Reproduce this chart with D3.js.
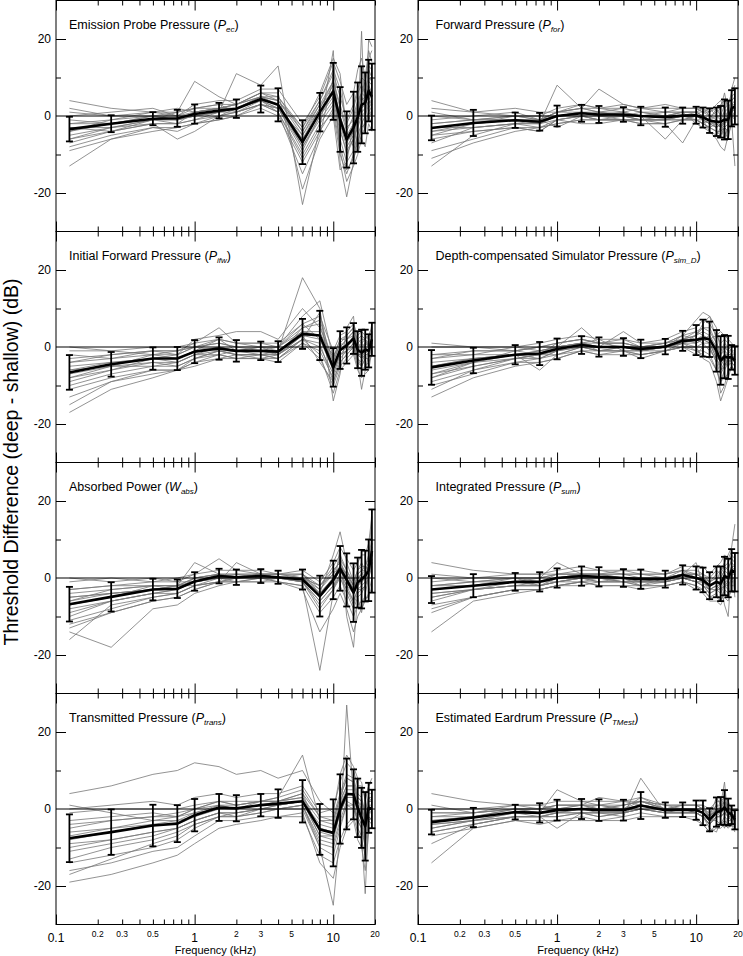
<!DOCTYPE html>
<html>
<head>
<meta charset="utf-8">
<script src="https://cdn.jsdelivr.net/npm/d3@7"></script>
<style>
  body { margin: 0; background: #fff; }
  text { font-family: "Liberation Sans", Arial, sans-serif; fill: #000; }
</style>
</head>
<body>
<svg id="chart" width="743" height="956"></svg>
<script>
// frequencies (kHz) of the threshold measurements
const freqs = [0.125, 0.25, 0.5, 0.75, 1, 1.5, 2, 3, 4, 6, 8, 10, 11.2, 12.5, 14, 15, 16, 17, 18, 19];

// tick labels of the frequency axis
const bigTickLabels = [0.1, 1, 10];
const smallTickLabels = [0.2, 0.3, 0.5, 2, 3, 5, 20];
const yTickLabels = [20, 0, -20];

// panel titles: text, symbol, subscript
const titleText = ["Emission Probe Pressure (", "Forward Pressure (", "Initial Forward Pressure (",
  "Depth-compensated Simulator Pressure (", "Absorbed Power (", "Integrated Pressure (",
  "Transmitted Pressure (", "Estimated Eardrum Pressure ("];
const titleSym = ["P", "P", "P", "P", "W", "P", "P", "P"];
const titleSub = ["ec", "for", "ifw", "sim_D", "abs", "sum", "trans", "TMest"];

// mean difference (dB) and standard deviation per panel
const meanPec = [-3.4,-2.0,-0.7,-0.6,0.5,1.4,1.9,4.4,2.9,-6.8,1.0,6.4,-0.9,-6.1,-3.0,-0.3,2.9,3.4,6.6,5.0];
const sdPec   = [3.2,2.2,1.7,2.2,2.5,2.0,2.4,3.5,4.3,5.7,5.0,7.4,8.4,7.3,9.3,9.0,10,7.9,8.0,8.6];
const meanPfor = [-3.1,-1.8,-1.1,-1.5,0,0.7,0.4,0.4,0,-0.3,0.1,0.2,-0.4,-1.2,-1.5,-1.5,-0.9,-1.0,2.0,2.5];
const sdPfor   = [3.2,3.4,2.0,2.3,2.7,2.2,2.2,1.9,2.4,2.5,2.1,2.2,2.6,3.2,3.7,4.1,5.2,5.0,4.7,4.7];
const meanPifw = [-6.6,-4.5,-3.0,-3.0,-1.2,-0.4,-1.0,-1.0,-1.2,3.4,3.0,-5.3,-0.8,0.4,2.2,-0.7,-1.5,-0.7,-1.0,2.0];
const sdPifw   = [4.5,3.2,2.9,3.0,3.0,2.9,2.8,2.4,2.7,3.9,6.4,5.0,4.9,4.7,4.0,4.8,6.0,5.2,4.3,4.3];
const meanPsim = [-5.3,-3.5,-2.0,-1.7,-0.5,0.5,0,0,-0.5,0.1,1.6,1.8,2.3,2.0,-1.0,-3.5,-2.5,-2.7,-2.7,-3.5];
const sdPsim   = [4.5,3.3,2.5,3.0,2.7,2.3,2.5,2.3,2.4,2.0,2.6,3.9,4.8,4.6,5.4,6.3,5.6,5.6,3.2,3.7];
const meanWabs = [-6.8,-4.9,-3.0,-2.8,-0.9,0.5,0.2,0.5,0.2,-0.4,-4.7,-0.5,2.5,-0.5,-3.8,-1.2,-0.3,0.5,2.0,7.0];
const sdWabs   = [4.5,3.8,2.8,2.4,2.4,1.9,2.0,1.8,1.7,2.6,5.3,5.0,5.8,6.9,7.6,6.5,7.6,6.6,8.0,10.8];
const meanPsum = [-3.0,-2.0,-1.0,-1.0,0,0.5,0.3,0,-0.3,-0.3,0.8,0,-0.5,-2.0,-1.0,-1.5,0.5,0,2.0,1.5];
const sdPsum   = [3.5,3.0,2.3,2.5,2.5,2.5,2.5,2.3,2.5,2.2,2.5,3.0,3.2,3.5,4.0,4.5,5.0,5.0,5.5,5.0];
const meanPtrans = [-7.6,-6.0,-4.3,-3.8,-1.6,0.4,0.2,1.0,1.4,2.0,-5.3,-6.2,0,3.9,3.8,0.3,-2.3,-4.5,0.3,0];
const sdPtrans   = [6.2,5.9,5.4,4.8,4.2,3.5,3.4,2.9,3.7,5.5,6.6,8.7,9.0,9.2,6.5,7.6,7.8,8.9,6.5,5.0];
const meanPtm = [-3.4,-2.2,-0.8,-1.0,-0.3,0,-0.3,-0.3,0.9,-0.3,-0.2,-0.3,-1.0,-2.8,-0.8,-0.5,0.4,-0.8,-1.5,-2.8];
const sdPtm   = [3.2,2.5,1.9,2.5,2.7,2.6,2.8,2.7,3.5,2.0,1.9,2.5,3.2,3.0,3.8,3.6,4.5,3.5,2.4,2.5];

// individual ears (dB)
const indivPec = [
  [-2,-1,0,0,1,2,2,5,3,-6,2,8,0,-5,-2,1,4,5,8,6],
  [-6,-4,-2,-2,-1,0,1,3,1,-10,-2,3,-6,-12,-9,-5,-2,0,3,1],
  [1,0,1,1,2,3,3,6,5,-3,4,11,5,-1,3,7,10,9,13,12],
  [-8,-5,-3,-3,-2,-1,0,2,0,-12,-4,2,-8,-14,-11,-8,-5,-3,0,-2],
  [-4,-2,0,-1,1,2,3,6,4,-5,2,9,2,-4,0,4,6,5,9,8],
  [-13,-6,-3,-4,-2,0,1,3,2,-9,0,5,-3,-10,-6,-2,1,2,4,3],
  [0,1,2,0,3,4,4,7,7,-2,5,14,9,3,6,12,15,10,17,14],
  [-3,-3,-1,-1,0,1,2,4,3,-8,-1,4,-4,-9,-6,-3,0,1,4,2],
  [-5,-3,-1,1,9,5,3,5,4,-4,3,6,-1,-6,-2,2,5,3,7,6],
  [-2,-2,-1,-1,0,1,11,8,13,-23,-3,17,-12,-21,-12,-4,22,-3,20,18],
  [4,2,1,2,1,2,2,4,2,-7,1,7,0,-7,-4,-1,3,4,6,4],
  [-7,-4,-2,-6,-4,0,2,4,1,-15,-5,10,-9,-17,-13,-10,-6,-8,-2,-4],
  [-1,-2,0,1,2,3,1,4,2,-5,3,9,3,-3,-1,3,6,7,10,9],
  [-9,-6,-4,-3,-2,-1,0,3,1,-11,-3,1,-10,-15,-10,-7,-3,-2,1,0],
  [-4,-1,1,0,2,2,3,5,5,-4,4,12,7,-2,2,6,8,6,12,10],
  [2,0,0,-1,0,1,1,3,2,-8,0,6,-2,-8,-5,-1,2,3,5,3],
  [-6,-3,-2,-2,-1,1,2,5,4,-3,6,15,11,-4,-8,0,6,9,15,17],
  [-3,-4,-1,-2,1,2,3,6,6,-19,-6,0,-14,-12,-2,-9,-1,-4,2,0]
];
const indivPfor = [
  [-2,-1,-1,-1,1,1,1,0,0,0,1,1,0,-1,-2,-1,0,1,3,3],
  [-6,-4,-3,-3,-2,-1,-1,-1,-2,-2,-1,-1,-2,-3,-4,-5,-3,-4,0,1],
  [2,1,0,0,2,3,2,2,1,1,2,2,1,1,2,3,4,3,5,6],
  [-9,-6,-3,-4,-1,0,-1,0,-1,-1,0,0,-1,-2,-3,-2,-5,-3,1,2],
  [-4,-2,-1,-2,8,2,1,2,1,0,1,1,2,0,1,2,6,1,4,5],
  [-13,-5,-2,-2,0,1,0,0,-1,-1,0,0,-1,-2,-1,-3,-1,-2,2,-1],
  [4,1,2,1,1,2,7,3,2,1,1,1,0,-1,2,0,3,-3,7,10],
  [-3,-2,-1,-1,-3,0,0,1,0,-6,-1,0,-1,-4,-6,-8,-9,-5,-2,-3],
  [-1,0,1,-1,1,3,2,1,2,3,2,2,1,2,0,-1,1,2,4,5],
  [-5,-4,-3,-4,-1,-2,-2,-1,-1,-2,-7,-1,-2,-1,-3,-2,-4,-6,-1,-13],
  [0,-1,0,0,0,1,0,-1,-1,0,1,-2,-3,-4,-5,-3,-2,0,3,2],
  [-7,-3,-2,-2,-1,0,-1,-1,-1,-1,-1,0,-1,-2,-2,-3,-1,-1,2,1],
  [-3,-3,-2,-1,0,1,0,0,-1,-1,0,-1,-1,-2,-3,-2,-2,-1,1,2],
  [-5,-2,0,-1,1,2,1,1,0,1,1,1,0,-1,0,0,1,0,3,4],
  [-11,-7,-4,-3,-2,-1,-1,-1,-2,-2,-1,-1,-2,-3,-4,-4,-3,-2,0,-1],
  [1,-1,-1,-2,0,0,1,0,1,0,0,1,1,0,-1,-2,-3,-4,1,3],
  [-2,-1,0,-1,1,2,2,3,2,2,2,2,2,1,3,4,2,3,6,8],
  [-4,-3,-2,-3,-1,0,-1,-1,-1,-1,-1,-1,-2,-3,-2,-3,-6,-3,0,0]
];
const indivPifw = [
  [-5,-4,-3,-3,-1,0,-1,-1,-1,4,3,-5,-1,1,2,0,-1,0,-1,2],
  [-11,-8,-6,-6,-4,-3,-3,-3,-3,1,-3,-10,-5,-3,-1,-5,-6,-5,-4,-2],
  [-1,-1,0,0,1,2,1,1,1,6,8,-1,3,4,6,3,4,3,2,6],
  [-15,-9,-7,-6,-4,-2,-3,-2,-3,2,-2,-12,-6,-4,-2,-6,-8,-7,-6,-1],
  [-7,-5,-2,-3,-1,2,-1,0,-2,5,6,-6,0,2,4,-2,-3,1,0,3],
  [-3,-2,-1,-2,2,3,4,4,2,10,5,-3,2,3,5,1,2,2,3,5],
  [-9,-6,-4,-5,-3,-1,-2,-2,-2,3,-4,-9,-4,-2,0,-4,-5,-3,-3,0],
  [-6,-4,-3,-2,0,-1,-1,0,-1,18,10,-14,-7,5,8,-4,-11,-6,-2,4],
  [-2,-3,-2,-1,0,1,0,-1,0,4,4,-4,1,0,3,0,1,0,-1,3],
  [-17,-11,-8,-6,-5,-3,-2,-3,-4,1,-1,-8,-3,-1,1,-3,-4,-2,-2,1],
  [-4,-3,-1,-1,1,5,1,0,0,6,2,-2,0,2,3,1,0,1,1,2],
  [-8,-5,-5,-4,-2,-2,-3,-3,-2,2,9,-7,-2,-1,0,-2,-2,-3,-2,0],
  [-10,-7,-5,-5,-3,-1,-2,-2,-2,2,0,-7,-2,0,2,-2,-2,-1,-2,1],
  [-4,-2,-1,-1,0,1,0,0,0,5,7,-4,1,3,5,2,1,2,1,4],
  [-6,-5,-4,-4,-2,-1,-2,-2,-1,3,3,-5,-1,1,2,-1,-3,-1,-1,2],
  [-13,-9,-6,-6,-3,-2,-1,-2,-3,2,1,-9,-4,-2,0,-3,-5,-3,-3,0],
  [0,-1,-2,-2,0,2,1,1,0,8,12,-3,2,2,4,2,3,2,0,5],
  [-8,-6,-3,-4,-2,0,-1,-1,-2,3,2,-6,-2,-1,1,-2,-3,-2,-2,1]
];
const indivPsim = [
  [-4,-3,-2,-1,0,1,0,0,-1,0,2,2,3,2,-1,-3,-2,-2,-2,-3],
  [-10,-7,-4,-4,-3,-1,-2,-2,-2,-1,0,-1,-1,-2,-6,-9,-8,-7,-5,-7],
  [0,0,0,1,2,3,2,2,1,2,4,5,7,6,3,1,2,1,0,0],
  [-13,-8,-5,-4,-3,-1,-2,-1,-2,-1,0,0,0,0,-4,-12,-10,-6,-5,-6],
  [-6,-4,-1,-2,1,2,1,1,0,1,3,4,5,5,1,-2,0,-1,-1,-2],
  [-2,-1,-1,0,0,5,1,2,0,1,2,1,2,3,-2,-4,-3,-4,-3,-4],
  [-8,-5,-3,-3,-1,0,-1,-1,-1,0,1,3,6,8,2,-6,-5,-3,-2,-4],
  [-5,-3,-2,-6,-2,0,-1,0,-1,-1,1,0,-3,-4,-9,-14,-11,-8,-5,-6],
  [1,0,-1,0,1,2,1,1,0,0,2,4,3,2,3,4,3,2,1,0],
  [-7,-4,-3,-2,-1,1,2,-1,-1,0,1,2,1,-1,-3,-5,-3,-5,-3,-3],
  [-3,-2,-2,-1,0,1,0,4,1,1,3,7,9,8,5,-1,1,0,-1,-1],
  [-9,-6,-3,-2,-2,0,-1,-1,-3,-1,0,-2,0,0,-4,-7,-5,-3,-4,-5],
  [-5,-3,-2,-2,-1,0,0,0,0,0,1,1,2,1,-2,-4,-3,-3,-3,-4],
  [-3,-1,-1,0,1,2,1,1,0,1,2,3,4,3,0,-2,-1,-2,-2,-2],
  [-11,-6,-4,-3,-2,-1,-1,-1,-2,-1,0,0,1,1,-3,-6,-4,-5,-4,-5],
  [-7,-5,-3,-2,0,1,1,0,0,0,2,3,5,4,1,-1,0,-1,-2,-3],
  [-2,-2,0,-1,0,1,-1,0,-1,0,1,-1,-2,-3,-6,-9,-6,-4,-3,-4],
  [-8,-4,-2,-3,-1,1,0,0,-1,0,3,2,2,1,-3,-3,-2,-4,-3,-2]
];
const indivWabs = [
  [-5,-4,-3,-2,-1,0,0,1,0,0,-4,0,3,0,-3,-1,0,1,3,7],
  [-12,-9,-6,-5,-3,-1,-1,0,-1,-2,-9,-5,-2,-6,-10,-7,-6,-5,-5,-2],
  [-1,0,-1,0,1,2,2,2,1,2,-1,4,8,5,2,4,6,6,9,16],
  [-14,-18,-8,-7,-4,-2,-1,-1,-1,-3,-14,-8,-4,-8,-14,-10,-8,-6,-4,0],
  [-7,-5,-2,-3,0,1,0,1,1,0,-3,2,4,1,-2,0,1,2,4,8],
  [-3,-2,-1,-1,1,5,2,1,1,1,-2,3,6,2,-1,2,3,3,6,10],
  [-9,-6,-4,-3,-1,0,-1,0,0,-1,-6,-2,1,-3,-6,-3,-2,-1,1,4],
  [-4,-3,-2,-2,-2,0,1,0,-1,-2,-24,-4,8,-10,-18,-5,-9,-4,0,5],
  [-16,-7,-5,-4,-2,-1,0,0,0,0,-5,-1,2,-2,-4,-2,-1,0,2,6],
  [-6,-4,-3,-2,4,1,0,1,0,0,-2,1,3,1,-3,1,2,3,5,9],
  [0,-1,0,-1,-1,0,0,0,0,-1,-8,-3,0,-4,-8,-5,-4,-2,0,3],
  [-10,-6,-4,-4,-2,-1,4,1,0,1,-4,6,12,4,-1,2,4,2,3,18],
  [-8,-6,-4,-3,-1,0,0,1,0,0,-5,-1,2,-1,-4,-2,-1,0,2,6],
  [-3,-2,-2,-2,0,1,1,1,1,1,-3,1,5,2,-2,1,2,2,4,9],
  [-11,-8,-5,-4,-2,-1,0,0,0,-1,-7,-3,1,-2,-6,-3,-3,-2,0,4],
  [-6,-3,-2,-2,0,1,1,1,0,0,-2,2,4,0,-3,0,1,1,3,7],
  [-13,-9,-6,-5,-3,-1,-1,-1,0,-1,-6,-2,0,-3,-7,-4,-3,-2,1,5],
  [-5,-4,-3,-2,-1,1,0,1,1,0,-4,0,3,1,-2,-1,0,1,2,6]
];
const indivPsum = [
  [-2,-2,-1,-1,0,1,0,0,0,0,1,0,0,-2,-1,-1,1,0,2,2],
  [-7,-5,-3,-3,-2,-1,-2,-2,-2,-2,-1,-3,-3,-5,-5,-6,-4,-5,-3,-4],
  [1,0,1,1,2,3,2,2,2,1,3,3,3,1,3,4,6,5,7,6],
  [-14,-6,-4,-3,-2,-2,-1,-1,-2,-2,-1,-2,-4,-6,-6,-7,-5,-6,-2,-2],
  [-4,-3,-1,-1,1,1,1,0,-1,0,2,2,1,0,2,1,3,2,5,4],
  [-1,0,0,0,1,2,2,1,1,1,2,1,0,-1,0,0,2,3,4,3],
  [-5,-3,-2,-2,-1,0,-1,-1,-1,-1,0,-1,-2,-3,-2,-3,-1,-2,0,0],
  [-3,-2,0,-2,0,0,-1,0,-2,0,1,4,-2,-4,-3,-2,-7,-10,3,-5],
  [4,2,1,1,1,1,1,1,0,0,1,1,1,-1,1,2,3,4,6,5],
  [-6,-3,-2,-2,-1,-1,0,-1,-1,-1,0,-1,-1,-3,-2,-3,-2,-1,1,1],
  [-2,-1,-1,0,4,1,1,2,1,1,2,0,-1,-2,-1,2,4,6,8,14],
  [-9,-5,-3,-3,-2,-1,-2,-2,-3,-2,-1,-2,-3,-5,-4,-6,-3,-4,-1,-1],
  [-4,-3,-2,-2,-1,0,0,-1,-1,-1,0,-1,-1,-3,-2,-2,-1,-1,1,1],
  [-2,-1,0,0,1,1,1,0,0,0,1,1,0,-1,0,0,2,1,3,3],
  [-8,-5,-3,-3,-2,-1,-1,-1,-2,-1,0,-1,-2,-4,-3,-4,-2,-3,0,0],
  [0,-1,0,-1,0,1,1,1,1,0,1,0,-1,-2,-1,-1,1,0,3,2],
  [-5,-3,-2,-1,-1,0,0,0,-1,-1,1,1,0,-2,-1,-2,0,-1,2,1],
  [-3,-2,-1,-2,-1,0,0,-1,0,0,0,-1,-2,-3,-3,-3,-2,-2,0,-1]
];
const indivPtrans = [
  [-6,-5,-3,-3,-1,0,0,1,1,2,-4,-5,1,4,4,1,0,-3,1,1],
  [-16,-14,-11,-10,-7,-3,-3,-2,-2,-2,-12,-14,-8,-4,-2,-6,-8,-12,-5,-5],
  [0,1,2,1,3,4,3,4,4,6,-1,0,7,12,10,6,6,3,6,7],
  [-19,-17,-14,-12,-9,-5,-4,-3,-2,-1,-14,-18,-10,-5,-3,-8,-10,-16,-6,-6],
  [-8,-6,-4,-4,-2,1,0,1,2,3,-5,-6,1,5,5,1,-1,-5,1,0],
  [4,6,9,10,12,11,9,10,8,10,2,-1,9,14,11,8,7,2,6,8],
  [-11,-9,-7,-5,-3,-1,-1,0,0,1,-8,-9,-3,2,1,-2,-4,-8,-2,-3],
  [-3,-2,-1,-2,0,2,1,2,2,4,-2,-2,4,9,8,4,3,-1,4,4],
  [-13,-10,-8,-6,-4,-2,-2,-1,0,0,-10,-25,-6,27,3,-5,-7,-22,-3,-2],
  [-5,-3,-2,-1,0,2,1,2,3,14,-3,-3,3,8,7,3,2,-2,3,2],
  [-9,-8,-6,-5,-3,-1,-2,0,1,2,-7,-8,-1,3,3,-1,-3,-7,-1,-1],
  [1,-1,-3,-2,-1,1,0,2,2,4,-6,-7,2,6,6,2,0,-4,2,2],
  [-10,-8,-6,-5,-3,-1,-1,0,1,2,-7,-7,-1,3,3,0,-2,-6,0,-1],
  [-4,-3,-2,-2,0,1,1,2,2,3,-3,-4,2,6,6,2,1,-3,2,2],
  [-14,-12,-10,-8,-5,-2,-2,-1,0,1,-9,-10,-4,1,1,-3,-5,-9,-2,-3],
  [-1,0,0,0,1,2,2,2,3,5,-2,-3,3,8,7,3,2,-1,3,3],
  [-7,-5,-4,-3,-2,0,0,1,1,2,-5,-6,0,4,4,0,-2,-5,0,0],
  [-17,-13,-9,-7,-4,-2,-1,0,0,1,-10,-12,-5,1,0,-3,-5,-10,-3,-4]
];
const indivPtm = [
  [-3,-2,-1,-1,0,0,0,0,1,0,0,0,-1,-3,-1,-1,0,-1,-2,-3],
  [-7,-5,-3,-3,-3,-2,-3,-3,-2,-2,-2,-2,-4,-6,-4,-4,-3,-4,-4,-5],
  [0,0,1,1,2,2,2,2,3,1,1,1,1,0,2,2,3,2,0,-1],
  [-14,-5,-3,-4,-3,-3,-3,-2,-1,-2,-2,-3,-4,-6,-5,-5,-4,-5,-4,-6],
  [-5,-3,-1,-2,-1,0,-1,-1,1,0,0,-1,-2,-4,-1,-2,1,-2,-2,-4],
  [4,2,1,1,0,1,0,1,2,1,1,1,0,-1,1,1,2,1,-1,-2],
  [-2,-2,0,-1,5,2,1,0,3,0,0,0,-1,-2,0,0,4,-1,-1,-2],
  [-4,-3,-2,-2,-5,-1,-1,-2,8,-1,-1,-1,-2,-4,-2,-2,-1,-2,-3,-3],
  [1,-1,0,0,1,1,3,2,2,1,0,0,0,-2,3,1,7,-3,0,-1],
  [-6,-4,-2,-2,-1,-1,-2,-1,0,-1,-1,-1,-2,-3,-3,-4,-2,-3,-3,-4],
  [-1,-1,0,0,0,1,1,2,1,0,1,1,1,-2,0,-1,1,1,-1,-1],
  [-9,-4,-2,-2,-2,-1,-2,-1,0,-1,0,-1,-2,-5,-6,-3,-5,-2,-3,-5],
  [-4,-3,-1,-1,-1,0,0,0,1,0,0,0,-1,-3,-1,-1,0,-1,-2,-3],
  [-2,-1,0,0,1,1,1,1,2,0,0,0,0,-2,0,0,1,0,-1,-2],
  [-6,-4,-2,-2,-2,-1,-1,-1,0,-1,-1,-1,-2,-4,-2,-2,-1,-2,-2,-4],
  [-1,-1,1,0,1,1,0,1,2,0,1,1,0,-2,1,0,2,0,-1,-2],
  [-5,-3,-2,-2,-1,-1,-1,-1,0,-1,-1,-1,-2,-4,-2,-2,-1,-1,-2,-3],
  [-3,-2,0,-1,0,0,1,0,2,0,0,0,-1,-3,0,0,2,-1,-1,-2]
];

const means = [meanPec, meanPfor, meanPifw, meanPsim, meanWabs, meanPsum, meanPtrans, meanPtm];
const sds = [sdPec, sdPfor, sdPifw, sdPsim, sdWabs, sdPsum, sdPtrans, sdPtm];
const indivs = [indivPec, indivPfor, indivPifw, indivPsim, indivWabs, indivPsum, indivPtrans, indivPtm];

// layout
const colLeft = [56, 418], colRight = [375, 738];
const titleOffset = [13, 17.5];
const rowTop = 0.5, rowH = 231;

const svg = d3.select("#chart");
svg.append("rect").attr("width", 743).attr("height", 956).attr("fill", "#fff");

const majorX = [0.1, 1, 10];
const minorX = [0.2,0.3,0.4,0.5,0.6,0.7,0.8,0.9,2,3,4,5,6,7,8,9,20];

means.forEach((mean, i) => {
    const col = i % 2, row = Math.floor(i / 2);
    const top = rowTop + row * rowH, bottom = top + rowH;
    const x = d3.scaleLog().domain([0.1, 20]).range([colLeft[col], colRight[col]]);
    const y = d3.scaleLinear().domain([-30, 30]).range([bottom, top]);
    const g = svg.append("g");

    g.append("clipPath").attr("id", "clip" + i)
      .append("rect").attr("x", colLeft[col]).attr("y", top)
      .attr("width", colRight[col] - colLeft[col]).attr("height", rowH);

    const line = d3.line().x((d, k) => x(freqs[k])).y(d => y(d));

    // individual ears
    g.append("g").attr("clip-path", `url(#clip${i})`)
      .selectAll("path").data(indivs[i]).join("path")
      .attr("d", line)
      .attr("fill", "none").attr("stroke", "#777").attr("stroke-width", 0.8);

    // zero line
    g.append("line")
      .attr("x1", colLeft[col]).attr("x2", colRight[col])
      .attr("y1", y(0)).attr("y2", y(0))
      .attr("stroke", "#000").attr("stroke-width", 1);

    // axes ticks (inward on all four sides)
    const tick = (axis, vals, size) => axis.tickValues(vals).tickSize(size).tickFormat("");
    const addAxis = (ax, tf) => {
        const a = g.append("g").attr("transform", tf).call(ax);
        a.select(".domain").remove();
        a.selectAll("line").attr("stroke", "#000").attr("stroke-width", 1);
    };
    addAxis(tick(d3.axisBottom(x), majorX, 10), `translate(0,${top})`);
    addAxis(tick(d3.axisBottom(x), minorX, 5), `translate(0,${top})`);
    addAxis(tick(d3.axisTop(x), majorX, 10), `translate(0,${bottom})`);
    addAxis(tick(d3.axisTop(x), minorX, 5), `translate(0,${bottom})`);
    addAxis(tick(d3.axisRight(y), [-20, 20], 10), `translate(${colLeft[col]},0)`);
    addAxis(tick(d3.axisRight(y), [-10, 10], 5), `translate(${colLeft[col]},0)`);
    addAxis(tick(d3.axisLeft(y), [-20, 20], 10), `translate(${colRight[col]},0)`);
    addAxis(tick(d3.axisLeft(y), [-10, 10], 5), `translate(${colRight[col]},0)`);

    // frame
    g.append("rect")
      .attr("x", colLeft[col]).attr("y", top)
      .attr("width", colRight[col] - colLeft[col]).attr("height", rowH)
      .attr("fill", "none").attr("stroke", "#000").attr("stroke-width", 1);

    // y labels
    g.selectAll(".ylab").data(yTickLabels).join("text")
      .attr("x", colLeft[col] - 5).attr("y", d => y(d))
      .attr("dy", "0.35em").attr("text-anchor", "end")
      .attr("font-size", 12).text(d => d);

    // mean line with error bars
    g.append("path").datum(mean).attr("d", line)
      .attr("fill", "none").attr("stroke", "#000").attr("stroke-width", 2.6)
      .attr("stroke-linejoin", "round");

    const bars = g.append("g").selectAll("g").data(mean).join("g")
      .attr("stroke", "#000").attr("stroke-width", 1.8);
    bars.append("line")
      .attr("x1", (d, k) => x(freqs[k])).attr("x2", (d, k) => x(freqs[k]))
      .attr("y1", (d, k) => y(d + sds[i][k])).attr("y2", (d, k) => y(d - sds[i][k]));
    bars.append("line")
      .attr("x1", (d, k) => x(freqs[k]) - 3.5).attr("x2", (d, k) => x(freqs[k]) + 3.5)
      .attr("y1", (d, k) => y(d + sds[i][k])).attr("y2", (d, k) => y(d + sds[i][k]));
    bars.append("line")
      .attr("x1", (d, k) => x(freqs[k]) - 3.5).attr("x2", (d, k) => x(freqs[k]) + 3.5)
      .attr("y1", (d, k) => y(d - sds[i][k])).attr("y2", (d, k) => y(d - sds[i][k]));

    // title
    const t = g.append("text")
      .attr("x", colLeft[col] + titleOffset[col]).attr("y", top + 28.5)
      .attr("font-size", 12.5);
    t.append("tspan").text(titleText[i]);
    t.append("tspan").attr("font-style", "italic").text(titleSym[i]);
    t.append("tspan").attr("font-style", "italic").attr("font-size", 8).attr("dy", 3).text(titleSub[i]);
    t.append("tspan").attr("dy", -3).text(")");

    // frequency labels on bottom row
    if (row === 3) {
        g.selectAll(".xbig").data(bigTickLabels).join("text")
          .attr("x", d => x(d)).attr("y", bottom + 17.5)
          .attr("text-anchor", "middle").attr("font-size", 12).text(d => d);
        g.selectAll(".xsmall").data(smallTickLabels).join("text")
          .attr("x", d => x(d)).attr("y", bottom + 12.5)
          .attr("text-anchor", "middle").attr("font-size", 8.5).text(d => d);
        g.append("text")
          .attr("x", (colLeft[col] + colRight[col]) / 2).attr("y", bottom + 29.5)
          .attr("text-anchor", "middle").attr("font-size", 11).text("Frequency (kHz)");
    }
});

// y-axis title
svg.append("text")
  .attr("transform", "translate(17.8,462) rotate(-90)")
  .attr("text-anchor", "middle").attr("font-size", 19.5)
  .text("Threshold Difference (deep - shallow) (dB)");
</script>
</body>
</html>
